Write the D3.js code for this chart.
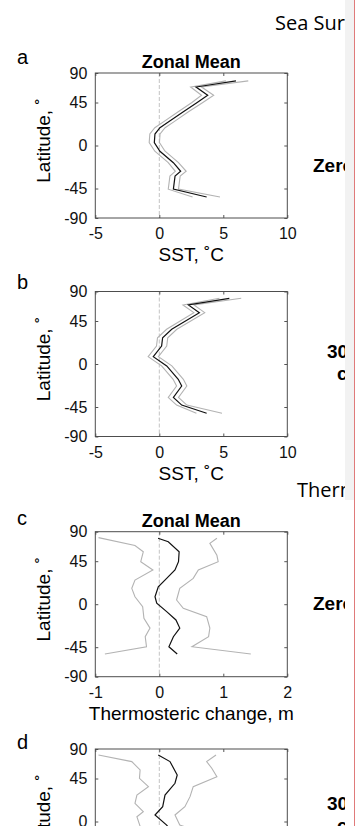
<!DOCTYPE html>
<html>
<head>
<meta charset="utf-8">
<script src="https://cdn.jsdelivr.net/npm/d3@7"></script>
<style>
  body { margin: 0; background: #fff; }
  svg { display: block; font-family: "Liberation Sans", Arial, sans-serif; }
</style>
</head>
<body>
<svg id="chart" width="362" height="826"></svg>
<script>
// latitude ticks and x ticks
const latTicks = [-90, -45, 0, 45, 90];
const sstTicks = [-5, 0, 5, 10];
const thermoTicks = [-1, 0, 1, 2];

// panel a: SST zonal mean, [lat, value]
const sstMeanA = [[78,5.99],[68.6,2.87],[56,3.78],[45,2.96],[35,1.85],[25,0.76],[18.6,0.05],[12,-0.34],[3,-0.39],[-6,0.05],[-18,1.1],[-27,1.67],[-32,1.23],[-46,1.1],[-58,3.7]];
const sstLowA = [[78,5.2],[68.6,2.45],[56,3.3],[45,2.55],[35,1.45],[25,0.35],[18.6,-0.35],[12,-0.74],[3,-0.79],[-6,-0.35],[-18,0.7],[-27,1.25],[-32,0.83],[-46,0.7],[-58,2.6]];
const sstHighA = [[78,6.95],[68.6,3.3],[56,4.25],[45,3.4],[35,2.25],[25,1.16],[18.6,0.45],[12,0.06],[3,0.01],[-6,0.45],[-18,1.5],[-27,2.1],[-32,1.63],[-46,1.5],[-58,4.74]];

// panel b: SST, 30-day
const sstMeanB = [[79.6,5.47],[69.5,2.27],[57.7,3.13],[36.3,0.97],[27.5,0.26],[18.8,0.18],[7.7,-0.47],[-2,0.58],[-16,1.48],[-23,1.75],[-35,1.1],[-43,1.75],[-54.6,3.7]];
const sstLowB = [[79.6,4.7],[69.5,1.85],[57.7,2.7],[36.3,0.57],[27.5,-0.14],[18.8,-0.22],[7.7,-0.87],[-2,0.18],[-16,1.08],[-23,1.35],[-35,0.7],[-43,1.35],[-54.6,2.9]];
const sstHighB = [[79.6,6.4],[69.5,2.7],[57.7,3.55],[36.3,1.37],[27.5,0.66],[18.8,0.58],[7.7,-0.07],[-2,0.98],[-16,1.88],[-23,2.15],[-35,1.5],[-43,2.15],[-54.6,4.9]];

// panel c: thermosteric zonal mean
const thermoMeanC = [[80,-0.02],[74.7,0.14],[59.5,0.31],[44.5,0.3],[35.8,0.245],[27,0.115],[18.3,-0.016],[7.8,-0.067],[1,-0.04],[-7.8,0.115],[-16.5,0.26],[-25,0.32],[-34,0.22],[-44.5,0.15],[-55.4,0.28]];
const thermoLowC = [[81,-0.95],[69,-0.38],[59.5,-0.25],[44.5,-0.29],[35.8,-0.1],[25.3,-0.38],[16.6,-0.43],[7.8,-0.38],[-2.6,-0.26],[-14.8,-0.24],[-25,-0.145],[-34,-0.22],[-44.5,-0.2],[-55.4,-0.85]];
const thermoHighC = [[80,0.9],[72.3,0.79],[54,0.9],[44.5,0.92],[35.8,0.61],[27,0.53],[16.6,0.32],[4.4,0.27],[-4.3,0.375],[-13,0.74],[-25,0.79],[-34,0.77],[-44.5,0.51],[-55.4,1.43]];

// panel d: thermosteric, 30-day
const thermoMeanD = [[80.8,-0.016],[70.8,0.167],[50.3,0.28],[40,0.245],[27.7,0.089],[15.5,0.053],[6.8,-0.067],[-3.7,0.115],[-16,0.25],[-25,0.3],[-35,0.2],[-45,0.15],[-55,0.27]];
const thermoLowD = [[80.8,-0.95],[70.8,-0.43],[58,-0.3],[45.2,-0.31],[36.5,-0.17],[27.7,-0.35],[19,-0.38],[10.3,-0.25],[5,-0.35],[-5,-0.3],[-15,-0.25],[-25,-0.15],[-35,-0.22],[-45,-0.2],[-55,-0.85]];
const thermoHighD = [[80.8,0.886],[70.8,0.74],[60.6,0.82],[47.7,0.9],[36.5,0.53],[26,0.48],[15.5,0.4],[6.8,0.245],[-3.7,0.32],[-13,0.72],[-25,0.79],[-34,0.77],[-45,0.5],[-55,1.4]];

const svg = d3.select("#chart");
const left = 95.3, right = 287.3, H = 145;

function drawPanel(opt) {
  const top = opt.top, bottom = top + H, mid = top + H / 2;

  const x = d3.scaleLinear().domain(opt.xDomain).range([left, right]);
  // latitude axis is stretched near the equator
  const y = d3.scaleLinear()
    .domain([-90, -45, 0, 45, 90])
    .range([bottom, bottom - 29.5, mid, top + 29.5, top]);

  const g = svg.append("g");

  // zero line
  g.append("line")
    .attr("x1", x(0)).attr("x2", x(0))
    .attr("y1", top).attr("y2", bottom)
    .attr("stroke", "#c4c4c4").attr("stroke-width", 1)
    .attr("stroke-dasharray", "4,2");

  const line = d3.line().x(d => x(d[1])).y(d => y(d[0]));

  [opt.low, opt.high].forEach(s => {
    g.append("path").datum(s).attr("d", line)
      .attr("fill", "none").attr("stroke", "#b3b3b3").attr("stroke-width", 1.1);
  });
  g.append("path").datum(opt.mean).attr("d", line)
    .attr("fill", "none").attr("stroke", "#111").attr("stroke-width", 1.2);

  const fmt = d => String(d);

  // axes, ticks pointing inward on all sides
  g.append("g").attr("transform", `translate(${left},0)`)
    .call(d3.axisLeft(y).tickValues(latTicks).tickFormat(fmt).tickSize(-3).tickPadding(8));
  g.append("g").attr("transform", `translate(0,${bottom})`)
    .call(d3.axisBottom(x).tickValues(opt.xTicks).tickFormat(fmt).tickSize(-3).tickPadding(10));
  g.append("g").attr("transform", `translate(${right},0)`)
    .call(d3.axisRight(y).tickValues(latTicks).tickSize(-3).tickFormat(""));
  g.append("g").attr("transform", `translate(0,${top})`)
    .call(d3.axisTop(x).tickValues(opt.xTicks).tickSize(-3).tickFormat(""));

  g.selectAll(".domain").remove();
  g.selectAll(".tick line").attr("stroke", "#555");
  g.selectAll(".tick text").attr("font-size", 16).attr("fill", "#111")
    .attr("font-family", "Liberation Sans, Arial, sans-serif");

  g.append("rect")
    .attr("x", left).attr("y", top).attr("width", right - left).attr("height", H)
    .attr("fill", "none").attr("stroke", "#4d4d4d").attr("stroke-width", 1);

  if (opt.title) {
    g.append("text").attr("x", (left + right) / 2).attr("y", top - 5)
      .attr("text-anchor", "middle").attr("font-weight", "bold").attr("font-size", 18)
      .text(opt.title);
  }

  g.append("text").attr("x", 17).attr("y", opt.letterY)
    .attr("font-size", 20).text(opt.letter);

  g.append("text")
    .attr("transform", `translate(50,${mid - 5}) rotate(-90)`)
    .attr("text-anchor", "middle").attr("font-size", 19)
    .text("Latitude, \u02da");

  if (opt.xLabel) {
    g.append("text").attr("x", (left + right) / 2).attr("y", bottom + 43)
      .attr("text-anchor", "middle").attr("font-size", 19)
      .text(opt.xLabel);
  }
}

drawPanel({ top: 73, xDomain: [-5, 10], xTicks: sstTicks, mean: sstMeanA, low: sstLowA, high: sstHighA,
  title: "Zonal Mean", letter: "a", letterY: 64, xLabel: "SST, \u02daC" });
drawPanel({ top: 291.5, xDomain: [-5, 10], xTicks: sstTicks, mean: sstMeanB, low: sstLowB, high: sstHighB,
  letter: "b", letterY: 289, xLabel: "SST, \u02daC" });
drawPanel({ top: 531.7, xDomain: [-1, 2], xTicks: thermoTicks, mean: thermoMeanC, low: thermoLowC, high: thermoHighC,
  title: "Zonal Mean", letter: "c", letterY: 525, xLabel: "Thermosteric change, m" });
drawPanel({ top: 749, xDomain: [-1, 2], xTicks: thermoTicks, mean: thermoMeanD, low: thermoLowD, high: thermoHighD,
  letter: "d", letterY: 749 });

// right-hand column, cut off by the neighbouring panel
svg.append("clipPath").attr("id", "cut").append("rect")
  .attr("x", 0).attr("y", 0).attr("width", 345).attr("height", 826);
const side = svg.append("g").attr("clip-path", "url(#cut)");

side.append("text").attr("x", 275).attr("y", 30).attr("font-size", 20)
  .attr("font-family", "Open Sans, sans-serif").text("Sea Surface Temperature");
side.append("text").attr("x", 297).attr("y", 497).attr("font-size", 20)
  .attr("font-family", "Open Sans, sans-serif").text("Thermosteric Change");

const sideBold = [["Zero-lag", 313, 172], ["30-day", 327, 358], ["composite", 337, 380], ["Zero-lag", 313, 610], ["30-day", 327, 810], ["composite", 337, 832]];
sideBold.forEach(d => {
  side.append("text").attr("x", d[1]).attr("y", d[2]).attr("font-size", 19)
    .attr("font-weight", "bold").text(d[0]);
});

svg.append("rect").attr("x", 345).attr("y", 0).attr("width", 9).attr("height", 500)
  .attr("fill", "#f2f2f2");
svg.append("line").attr("x1", 354.5).attr("x2", 354.5).attr("y1", 0).attr("y2", 826)
  .attr("stroke", "#e07a7a").attr("stroke-width", 1);
</script>
</body>
</html>
